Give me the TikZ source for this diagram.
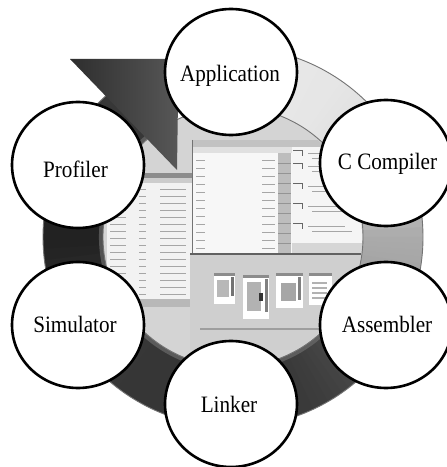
\documentclass[tikz,border=0pt]{standalone}
\usepackage{fontspec}
\setmainfont{Liberation Serif}
\usetikzlibrary{shapes.geometric}
\begin{document}
\begin{tikzpicture}[x=1pt,y=1pt,
  bubble/.style={ellipse, draw=black, line width=2.6pt, fill=white, minimum width=132pt, minimum height=126pt, inner sep=0pt},
  lbl/.style={anchor=base, inner sep=0pt, xscale=0.9, font=\fontsize{23.5}{28}\selectfont},
  txtrow/.style={draw=black!35, line width=0.9pt},
  winbar/.style={fill=black!45},
  panel/.style={fill=white}]
\useasboundingbox (0,0) rectangle (447,467);
\fill[white] (0,0) rectangle (447,467);

% ---- cycle band: light tail at the top right, darkening clockwise ----
\begin{scope}[shift={(233,230)}]
  \foreach \aa/\ab/\ga/\gb in {95/55/8/10, 55/30/10/14, 30/0/14/33, 0/-20/33/38,
      -20/-40/38/70, -40/-65/70/77, -65/-90/77/79, -90/-120/79/79,
      -120/-145/79/78, -145/-180/78/87, -180/-205/87/84, -205/-229/84/78}{
    \foreach \k in {0,...,9}{
      \pgfmathsetmacro\sa{\aa+(\ab-\aa)*\k/10}
      \pgfmathsetmacro\sb{\aa+(\ab-\aa)*(\k+1)/10-0.5}
      \pgfmathsetmacro\gg{\ga+(\gb-\ga)*(\k+0.5)/10}
      \fill[black!\gg] (\sa:190) arc[start angle=\sa, end angle=\sb, radius=190]
        -- (\sb:130) arc[start angle=\sb, end angle=\sa, radius=130] -- cycle;
    }
  }
  % lighter rim along the inner edge of the dark part
  \draw[black!55, line width=4pt, opacity=0.6] (-20:132) arc[start angle=-20, end angle=-229, radius=132];
  \draw[black!55, line width=0.9pt] (95:190) arc[start angle=95, end angle=-229, radius=190];
  % inner disc behind the screen shot
  \fill[black!17, draw=black!55, line width=0.9pt] (0,0) circle[radius=130pt];
\end{scope}

% ---- everything below is laid out with y pointing down ----
\begin{scope}[shift={(0,467)}, y=-1pt]
  % screen shot of the tool windows
  \begin{scope}
    \clip (233,237) circle[radius=129pt];
    % left window (listing)
    \fill[black!5] (107,173) rectangle (192,307);
    \fill[winbar] (107,173) rectangle (192,178);
    \fill[black!20] (107,178) rectangle (192,183);
    \foreach \y in {189,196,...,294}{
      \draw[txtrow] (110,\y) -- (126,\y);
      \draw[txtrow] (139,\y) -- (146,\y);
      \draw[txtrow] (160,\y) -- (186,\y);
    }
    \fill[black!28] (107,299) rectangle (192,307);
    % middle window (symbol list)
    \fill[black!3] (192,140) rectangle (292,253);
    \fill[black!24] (192,140) rectangle (292,147);
    \fill[black!12] (192,147) rectangle (292,153);
    \draw[black!55, line width=1pt] (192,140) -- (192,253);
    \fill[black!26] (278,153) rectangle (291,253);
    \foreach \y in {163,173,...,253}{\draw[black!42, line width=0.6pt] (278,\y) -- (291,\y);}
    \foreach \y in {160,168,...,248}{
      \draw[txtrow] (196,\y) -- (205,\y);
      \draw[txtrow] (262,\y) -- (275,\y);
    }
    % right window (tree view)
    \fill[black!4] (292,140) rectangle (368,243);
    \fill[black!24] (292,140) rectangle (368,147);
    \foreach \y in {150,163,183,203,223}{
      \draw[black!60, line width=0.8pt] (293,\y) -- (302,\y) -- (302,\y+6);
      \draw[txtrow] (308,\y+3) -- (345,\y+3);
      \draw[txtrow] (312,\y+8) -- (352,\y+8);
    }
    \fill[black!16] (292,243) rectangle (368,254);
    % bottom window (memory panels)
    \fill[black!19] (190,254) rectangle (368,350);
    \draw[black!62, line width=1.6pt] (190,254) -- (368,254);
    \fill[panel] (214,273) rectangle (235,304);
    \fill[winbar] (214,273) rectangle (235,276);
    \fill[black!28] (217,280) rectangle (229,297);
    \fill[black!55] (231,277) rectangle (234,296);
    \fill[panel] (243,275) rectangle (269,319);
    \fill[winbar] (243,275) rectangle (269,278);
    \fill[black!30] (247,282) rectangle (261,311);
    \fill[black!80] (259,293) rectangle (263,301);
    \fill[black!50] (265,279) rectangle (268,312);
    \fill[panel] (276,273) rectangle (303,308);
    \fill[winbar] (276,273) rectangle (303,276);
    \fill[black!35] (281,283) rectangle (296,301);
    \fill[black!50] (298,277) rectangle (301,300);
    \fill[panel] (309,273) rectangle (332,305);
    \fill[winbar] (309,273) rectangle (332,276);
    \foreach \y in {283,288,293,298}{\draw[black!30, line width=1.5pt] (312,\y) -- (327,\y);}
    \draw[black!38, line width=1.5pt] (200,329) -- (345,329);
  \end{scope}

  % arrow head closing the cycle
  \shade[left color=black!82, middle color=black!50, right color=black!62]
    (70,59) -- (185,59) -- (205,80) -- (178,100) -- (177,170) -- cycle;

  % stages
  \node[bubble] (app)  at (231,72)  {};
  \node[bubble] (cc)   at (386,163) {};
  \node[bubble] (asm)  at (386,325) {};
  \node[bubble] (link) at (231,404) {};
  \node[bubble] (sim)  at (78,325)  {};
  \node[bubble] (prof) at (78,165)  {};

  \node[lbl] (appT)  at (230,82)    {Application};
  \node[lbl] (ccT)   at (387.5,170) {C Compiler};
  \node[lbl] (asmT)  at (387,332)   {Assembler};
  \node[lbl] (linkT) at (229,412)   {Linker};
  \node[lbl] (simT)  at (75,332)    {Simulator};
  \node[lbl] (profT) at (75.5,178)  {Profiler};
\end{scope}
\end{tikzpicture}
\end{document}
